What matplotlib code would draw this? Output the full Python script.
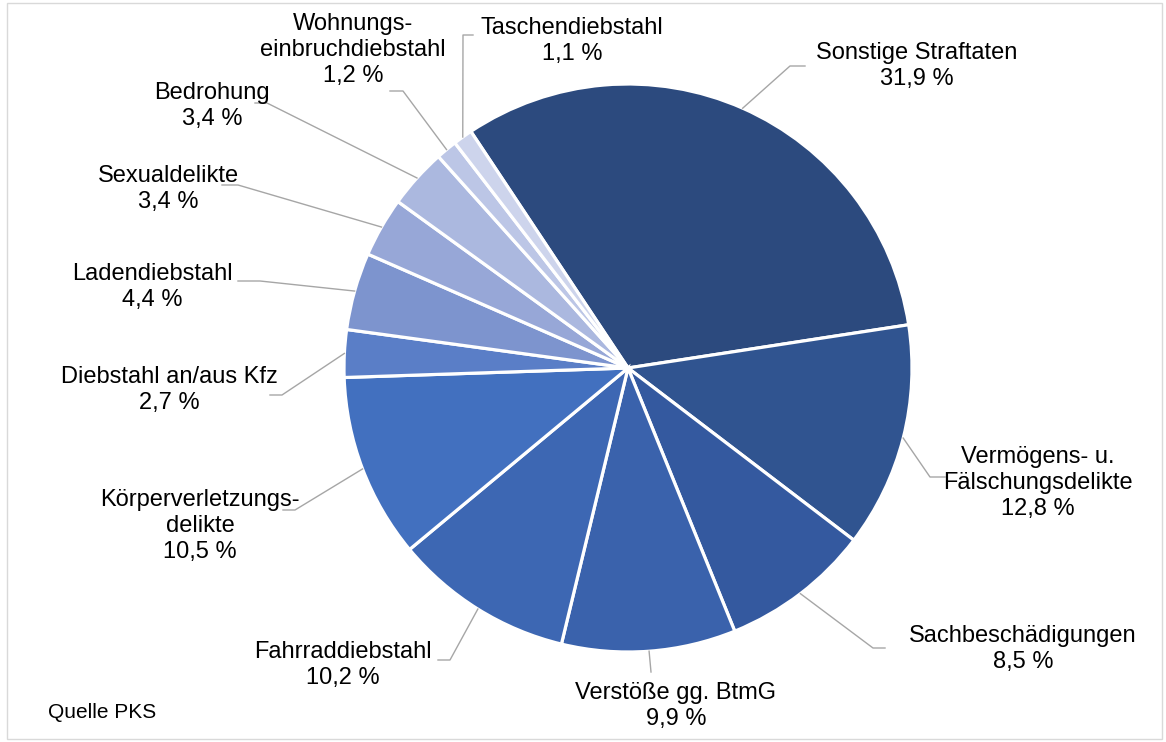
import numpy as np
import matplotlib
matplotlib.use('Agg')
import matplotlib.pyplot as plt
from matplotlib.patches import Rectangle

plt.rcParams['font.family'] = ['Liberation Sans', 'DejaVu Sans']

# Anteile der Straftaten (PKS), im Uhrzeigersinn
categories = ['Sonstige Straftaten', 'Vermögens- u.\nFälschungsdelikte', 'Sachbeschädigungen',
              'Verstöße gg. BtmG', 'Fahrraddiebstahl', 'Körperverletzungs-\ndelikte',
              'Diebstahl an/aus Kfz', 'Ladendiebstahl', 'Sexualdelikte', 'Bedrohung',
              'Wohnungs-\neinbruchdiebstahl', 'Taschendiebstahl']
values = [31.9, 12.8, 8.5, 9.9, 10.2, 10.5, 2.7, 4.4, 3.4, 3.4, 1.2, 1.1]
colors = ['#2C4A7E', '#305490', '#34599F', '#3A62AC', '#3D67B3', '#4270BF',
          '#5A7EC7', '#7D94CE', '#97A7D7', '#ABB8DF', '#BCC6E6', '#CDD4EC']

W, H = 1166, 742
CX, CY, R = 628, 368, 284


def px(x, y):
    # pixel position -> data coords (pie radius = 1)
    return (x - CX) / R, (CY - y) / R


# label layout: text centre, leader elbow, leader end (pixels)
label_pos = [(917, 66), (1038, 483), (1023, 649), (676, 706), (343, 665), (200, 526),
             (169, 390), (152, 287), (168, 189), (212, 106), (353, 50), (572, 41)]
elbows = [(790, 66), (930, 477), (873, 648), (651, 672), (450, 660), (295, 510),
          (282, 395), (260, 281), (238, 185), (267, 103), (403, 91), (463, 35)]
ends = [(805, 66), (945, 477), (885, 648), (651, 672), (438, 660), (283, 510),
        (270, 395), (238, 281), (222, 185), (255, 103), (390, 91), (473, 35)]

fig = plt.figure(figsize=(W / 100, H / 100), dpi=100)
ax = fig.add_axes([0, 0, 1, 1])

start = 90 + 33.6
wedges, _ = ax.pie(values, colors=colors, startangle=start, counterclock=False,
                   radius=1, center=(0, 0),
                   wedgeprops=dict(edgecolor='white', linewidth=2.3))

ax.set_xlim(-CX / R, (W - CX) / R)
ax.set_ylim((CY - H) / R, CY / R)
ax.set_aspect('equal')
ax.axis('off')

cum = 0
for i, v in enumerate(values):
    mid = np.deg2rad(start - (cum + v / 2) * 3.6)
    cum += v
    x0, y0 = np.cos(mid), np.sin(mid)
    ex, ey = px(*elbows[i])
    nx, ny = px(*ends[i])
    ax.plot([x0, ex, nx], [y0, ey, ny], color='#A6A6A6', lw=1.0, zorder=1)
    tx, ty = px(*label_pos[i])
    txt = '%s\n%s %%' % (categories[i], ('%.1f' % v).replace('.', ','))
    ax.text(tx, ty, txt, ha='center', va='center', multialignment='center',
            fontsize=17, color='black', linespacing=1.25)

qx, qy = px(48, 713)
ax.text(qx, qy, 'Quelle PKS', ha='left', va='center', fontsize=15)

fig.patches.append(Rectangle((7 / W, 3 / H), 1155 / W, 736 / H, transform=fig.transFigure,
                             fill=False, edgecolor='#D9D9D9', lw=1.0))

fig.savefig('out.png', dpi=100)
